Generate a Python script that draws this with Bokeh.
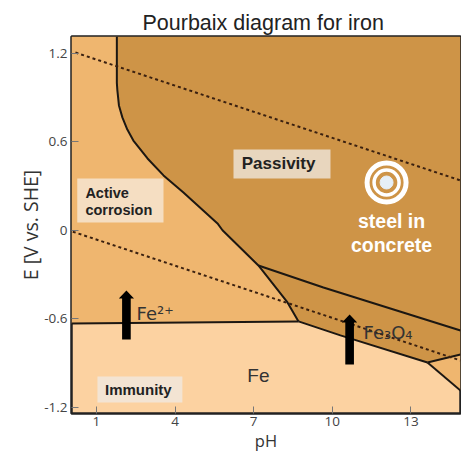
from bokeh.plotting import figure
from bokeh.models import Range1d, FixedTicker
from bokeh.core.properties import value
from bokeh.embed import file_html
from bokeh.resources import INLINE

PH_MIN, PH_MAX, E_MIN, E_MAX = 0.05, 14.89, -1.244, 1.315
ph_ticks = [1, 4, 7, 10, 13]
e_ticks = [-1.2, -0.6, 0, 0.6, 1.2]
e_tick_labels = {-1.2: "-1.2", -0.6: "-0.6", 0: "0", 0.6: "0.6", 1.2: "1.2"}

# Passivity / active corrosion boundary
bd_ph = [1.78, 1.78, 1.80, 1.86, 1.99, 2.18, 2.41, 2.95, 3.56, 4.32, 5.62, 5.81, 7.18, 8.29, 8.71]
bd_e = [1.315, 1.0, 0.949, 0.847, 0.766, 0.683, 0.609, 0.487, 0.372, 0.256, 0.046, 0.0, -0.239, -0.490, -0.619]
# Fe2+ / Fe
fe2_ph = [0.05, 8.71]
fe2_e = [-0.633, -0.619]
# Fe / Fe3O4
fe_ph = [8.71, 10.31, 13.63]
fe_e = [-0.619, -0.714, -0.898]
# Lower-right wedge
wl_ph = [13.63, 14.89]
wl_e = [-0.898, -1.088]
wu_ph = [13.63, 14.89]
wu_e = [-0.898, -0.843]
# Fe3O4 / Fe2O3
ox_ph = [7.18, 9.66, 14.89]
ox_e = [-0.239, -0.389, -0.681]
# Water stability lines
o2_ph = [0.2, 14.89]
o2_e = [1.206, 0.338]
h2_ph = [0.1, 14.89]
h2_e = [-0.010, -0.884]

COL_ACTIVE, COL_PASS, COL_IMM = "#EFB66F", "#CE9447", "#FCD2A1"
LINE = "#1c1712"
SPLIT = bd_ph.index(7.18)

p = figure(width=461, height=454, output_backend="svg", toolbar_location=None,
           x_range=Range1d(PH_MIN, PH_MAX), y_range=Range1d(E_MIN, E_MAX),
           min_border_left=71, min_border_right=1, min_border_top=36, min_border_bottom=41,
           title="Pourbaix diagram for iron", x_axis_label="pH", y_axis_label="E [V vs. SHE]")
p.title.text_font = "Liberation Sans"
p.title.text_font_size = "21.5px"
p.title.text_font_style = "normal"
p.title.text_color = "#222222"
p.title.align = "left"
p.title.offset = 71
p.title.vertical_align = "top"
p.title.standoff = 0
p.grid.visible = False
p.outline_line_color = "#222222"
p.outline_line_width = 2.5
p.background_fill_color = COL_IMM

for ax, ticks in ((p.xaxis[0], ph_ticks), (p.yaxis[0], e_ticks)):
    ax.ticker = FixedTicker(ticks=ticks)
    ax.axis_line_color = None
    ax.major_tick_in = 7
    ax.major_tick_out = 0
    ax.minor_tick_line_color = None
    ax.major_tick_line_color = "#777777"
    ax.major_tick_line_width = 1
    ax.major_label_text_font = "Open Sans"
    ax.major_label_text_font_size = "13.5px"
    ax.major_label_text_color = "#444444"
    ax.axis_label_text_font = "Open Sans"
    ax.axis_label_text_font_style = "normal"
    ax.axis_label_text_color = "#333333"
p.xaxis[0].axis_label_text_font_size = "16.5px"
p.yaxis[0].axis_label_text_font_size = "19.5px"
p.yaxis[0].major_label_overrides = e_tick_labels
p.xaxis[0].major_label_standoff = 3
p.yaxis[0].major_label_standoff = 4
p.xaxis[0].axis_label_standoff = 0
p.yaxis[0].axis_label_standoff = -3

# Regions
p.patch([PH_MIN] + bd_ph + [PH_MIN], [E_MAX] + bd_e + [fe2_e[0]], fill_color=COL_ACTIVE, line_color=None)
p.patch(bd_ph[:SPLIT + 1] + ox_ph[1:] + [PH_MAX], bd_e[:SPLIT + 1] + ox_e[1:] + [E_MAX],
        fill_color=COL_PASS, line_color=None)
p.patch(ox_ph + wu_ph[::-1] + fe_ph[::-1] + bd_ph[SPLIT + 1:-1][::-1],
        ox_e + wu_e[::-1] + fe_e[::-1] + bd_e[SPLIT + 1:-1][::-1], fill_color=COL_PASS, line_color=None)
p.patch(wu_ph + [wl_ph[1]], wu_e + [wl_e[1]], fill_color=COL_ACTIVE, line_color=None)

# Boundaries
for xs, ys in ((bd_ph, bd_e), (fe2_ph, fe2_e), (fe_ph, fe_e), (wl_ph, wl_e), (wu_ph, wu_e), (ox_ph, ox_e)):
    p.line(xs, ys, line_color=LINE, line_width=2)
for xs, ys in ((o2_ph, o2_e), (h2_ph, h2_e)):
    p.line(xs, ys, line_color="#3a2010", line_width=2, line_dash="3 3")

# Label boxes
p.quad(left=[0.27], right=[3.56], top=[0.351], bottom=[0.053], fill_color="#F4E0C6", line_color=None, fill_alpha=0.95)
p.quad(left=[6.23], right=[9.93], top=[0.548], bottom=[0.351], fill_color="#E8D6BE", line_color=None)
p.quad(left=[1.04], right=[4.28], top=[-0.993], bottom=[-1.169], fill_color="#F3E4D3", line_color=None)

# Arrows
arrow_ph = [2.145, 10.66]
arrow_bottom = [-0.742, -0.911]
arrow_shoulder = [-0.463, -0.626]
arrow_top = [-0.409, -0.572]
SHAFT, HEAD = 0.165, 0.29
for a, b, s, t in zip(arrow_ph, arrow_bottom, arrow_shoulder, arrow_top):
    p.patch([a - SHAFT, a + SHAFT, a + SHAFT, a + HEAD, a, a - HEAD, a - SHAFT],
            [b, b, s, s, t, s, s], fill_color="#000000", line_color=None)

# Steel marker
p.scatter([12.07], [0.324], size=39, marker="circle", fill_color=None, line_color="#FFFFFF", line_width=5)
p.scatter([12.07], [0.324], size=25, marker="circle", fill_color=None, line_color="#FFFFFF", line_width=3.5)
p.scatter([12.07], [0.324], size=13, marker="circle", fill_color="#E6EFF6", fill_alpha=1.0,
          line_color="#E6EFF6", line_alpha=1.0, line_width=1)

def txt(x, y, s, size, color="#222222", style="normal", font="Liberation Sans", align="center", baseline="middle"):
    p.text([x], [y], text=[s], text_font=value(font), text_font_size=value(size), text_color=color,
           text_font_style=style, text_align=align, text_baseline=baseline)

txt(0.58, 0.256, "Active", "14.5px", style="bold", align="left")
txt(0.58, 0.134, "corrosion", "14.5px", style="bold", align="left")
txt(7.95, 0.453, "Passivity", "17px", style="bold")
txt(2.60, -1.081, "Immunity", "15px", style="bold")
txt(7.18, -0.986, "Fe", "19px", color="#333333")
txt(12.26, 0.066, "steel in", "19.5px", color="#FFFFFF", style="bold")
txt(12.26, -0.097, "concrete", "19.5px", color="#FFFFFF", style="bold")
txt(2.53, -0.565, "Fe²⁺", "18px", color="#333333", font="DejaVu Sans", align="left", baseline="alphabetic")
txt(11.19, -0.694, "Fe₃O₄", "18px", color="#333333", font="DejaVu Sans", align="left", baseline="alphabetic")

open("out.html", "w").write(file_html(p, INLINE))
